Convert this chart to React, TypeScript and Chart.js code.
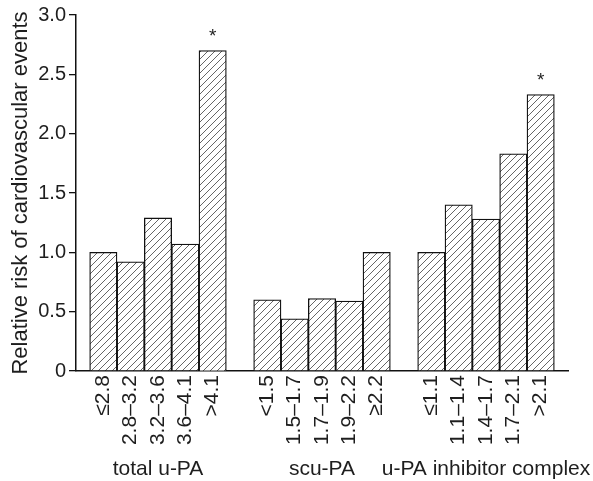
import React, { useEffect, useRef } from 'react';
import { Chart, registerables } from 'chart.js';

Chart.register(...registerables);

// ---- data ----
const groupNames = ['total u-PA', 'scu-PA', 'u-PA inhibitor complex'];
const totalLabels = ['≤2.8', '2.8–3.2', '3.2–3.6', '3.6–4.1', '>4.1'];
const scuLabels = ['<1.5', '1.5–1.7', '1.7–1.9', '1.9–2.2', '≥2.2'];
const complexLabels = ['≤1.1', '1.1–1.4', '1.4–1.7', '1.7–2.1', '>2.1'];
const totalValues = [1.0, 0.92, 1.29, 1.07, 2.7];
const scuValues = [0.6, 0.44, 0.61, 0.59, 1.0];
const complexValues = [1.0, 1.4, 1.28, 1.83, 2.33];
const totalSignificant = [false, false, false, false, true];
const scuSignificant = [false, false, false, false, false];
const complexSignificant = [false, false, false, false, true];
const yTickValues = [0, 0.5, 1, 1.5, 2, 2.5, 3];
const yAxisTitle = 'Relative risk of cardiovascular events';

const FONT = '"Liberation Sans", Arial, Helvetica, sans-serif';
const INK = '#1e1e1e';

const groups = [
  { labels: totalLabels, values: totalValues, sig: totalSignificant },
  { labels: scuLabels, values: scuValues, sig: scuSignificant },
  { labels: complexLabels, values: complexValues, sig: complexSignificant },
];

// Category slots: a blank margin slot, then each group's bars separated by a blank gap slot,
// then a blank margin slot.
const slotLabels: string[] = [''];
const slotValues: (number | null)[] = [null];
const slotSig: boolean[] = [false];
const groupSlotLabels: string[] = [''];
groups.forEach((g, gi) => {
  if (gi > 0) {
    slotLabels.push('');
    slotValues.push(null);
    slotSig.push(false);
    groupSlotLabels.push('');
  }
  const mid = Math.floor(g.labels.length / 2);
  g.labels.forEach((lab, i) => {
    slotLabels.push(lab);
    slotValues.push(g.values[i]);
    slotSig.push(g.sig[i]);
    groupSlotLabels.push(i === mid ? groupNames[gi] : '');
  });
});
slotLabels.push('');
slotValues.push(null);
slotSig.push(false);
groupSlotLabels.push('');

function makeHatch(): CanvasPattern | string {
  const c = document.createElement('canvas');
  const s = 7;
  c.width = s;
  c.height = s;
  const ctx = c.getContext('2d');
  if (!ctx) return '#fff';
  ctx.fillStyle = '#ffffff';
  ctx.fillRect(0, 0, s, s);
  ctx.strokeStyle = '#555';
  ctx.lineWidth = 0.9;
  ctx.beginPath();
  ctx.moveTo(-1, s + 1);
  ctx.lineTo(s + 1, -1);
  ctx.moveTo(-1, 1);
  ctx.lineTo(1, -1);
  ctx.moveTo(s - 1, s + 1);
  ctx.lineTo(s + 1, s - 1);
  ctx.stroke();
  const p = ctx.createPattern(c, 'repeat');
  return p || '#fff';
}

const starPlugin = {
  id: 'stars',
  afterDatasetsDraw(chart: any) {
    const meta = chart.getDatasetMeta(0);
    const ctx = chart.ctx;
    ctx.save();
    ctx.font = `19px ${FONT}`;
    ctx.fillStyle = INK;
    ctx.textAlign = 'center';
    ctx.textBaseline = 'alphabetic';
    meta.data.forEach((el: any, i: number) => {
      if (slotSig[i] && el) ctx.fillText('*', el.x, el.y - 9);
    });
    ctx.restore();
  },
};

const noSidePadding = (scale: any, h: number) => {
  scale.height = h;
  scale.paddingLeft = 0;
  scale.paddingRight = 0;
};

export default function App() {
  const ref = useRef<HTMLCanvasElement | null>(null);

  useEffect(() => {
    document.body.style.margin = '0';
    const canvas = ref.current;
    if (!canvas) return;
    const chart = new Chart(canvas, {
      type: 'bar',
      data: {
        labels: slotLabels,
        datasets: [
          {
            data: slotValues as any,
            backgroundColor: makeHatch() as any,
            borderColor: '#111',
            borderWidth: 1.3,
            barPercentage: 1,
            categoryPercentage: 1,
            xAxisID: 'x',
            yAxisID: 'y',
          },
        ],
      },
      options: {
        responsive: false,
        animation: false,
        layout: { padding: { top: 15, right: 25, left: 0, bottom: 0 } },
        plugins: {
          legend: { display: false },
          tooltip: { enabled: false },
        },
        scales: {
          x: {
            type: 'category',
            position: 'bottom',
            offset: false,
            weight: 0,
            afterFit: (scale: any) => noSidePadding(scale, 80),
            grid: { display: true, drawOnChartArea: false, drawTicks: false, color: 'rgba(0,0,0,0)' },
            border: { display: true, color: '#111', width: 1.5 },
            ticks: {
              autoSkip: false,
              maxRotation: 90,
              minRotation: 90,
              padding: 4,
              color: INK,
              font: { family: FONT, size: 21 },
            },
          },
          x2: {
            type: 'category',
            labels: groupSlotLabels,
            position: 'bottom',
            offset: false,
            weight: 1,
            afterFit: (scale: any) => noSidePadding(scale, 30),
            grid: { display: false, drawTicks: false },
            border: { display: false },
            ticks: {
              autoSkip: false,
              maxRotation: 0,
              minRotation: 0,
              padding: 6,
              color: INK,
              font: { family: FONT, size: 21 },
            },
          },
          y: {
            type: 'linear',
            min: 0,
            max: 3,
            afterBuildTicks: (scale: any) => {
              scale.ticks = yTickValues.map((v) => ({ value: v }));
            },
            afterFit: (scale: any) => {
              scale.width = 76;
            },
            grid: {
              display: true,
              drawOnChartArea: false,
              drawTicks: true,
              tickLength: 7,
              color: '#111',
              lineWidth: 1.3,
            },
            border: { display: true, color: '#111', width: 1.5 },
            ticks: {
              padding: 3,
              color: INK,
              font: { family: FONT, size: 20 },
              callback: (v: any) => (Number(v) === 0 ? '0' : Number(v).toFixed(1)),
            },
            title: {
              display: true,
              text: yAxisTitle,
              color: INK,
              font: { family: FONT, size: 22 },
              padding: { top: 8, bottom: 0 },
            },
          },
        },
      } as any,
      plugins: [starPlugin],
    });
    return () => chart.destroy();
  }, []);

  return (
    <div style={{ position: 'absolute', left: 0, top: 0, width: 593, height: 481, background: '#fff' }}>
      <canvas ref={ref} width={593} height={481} style={{ display: 'block' }} />
    </div>
  );
}
